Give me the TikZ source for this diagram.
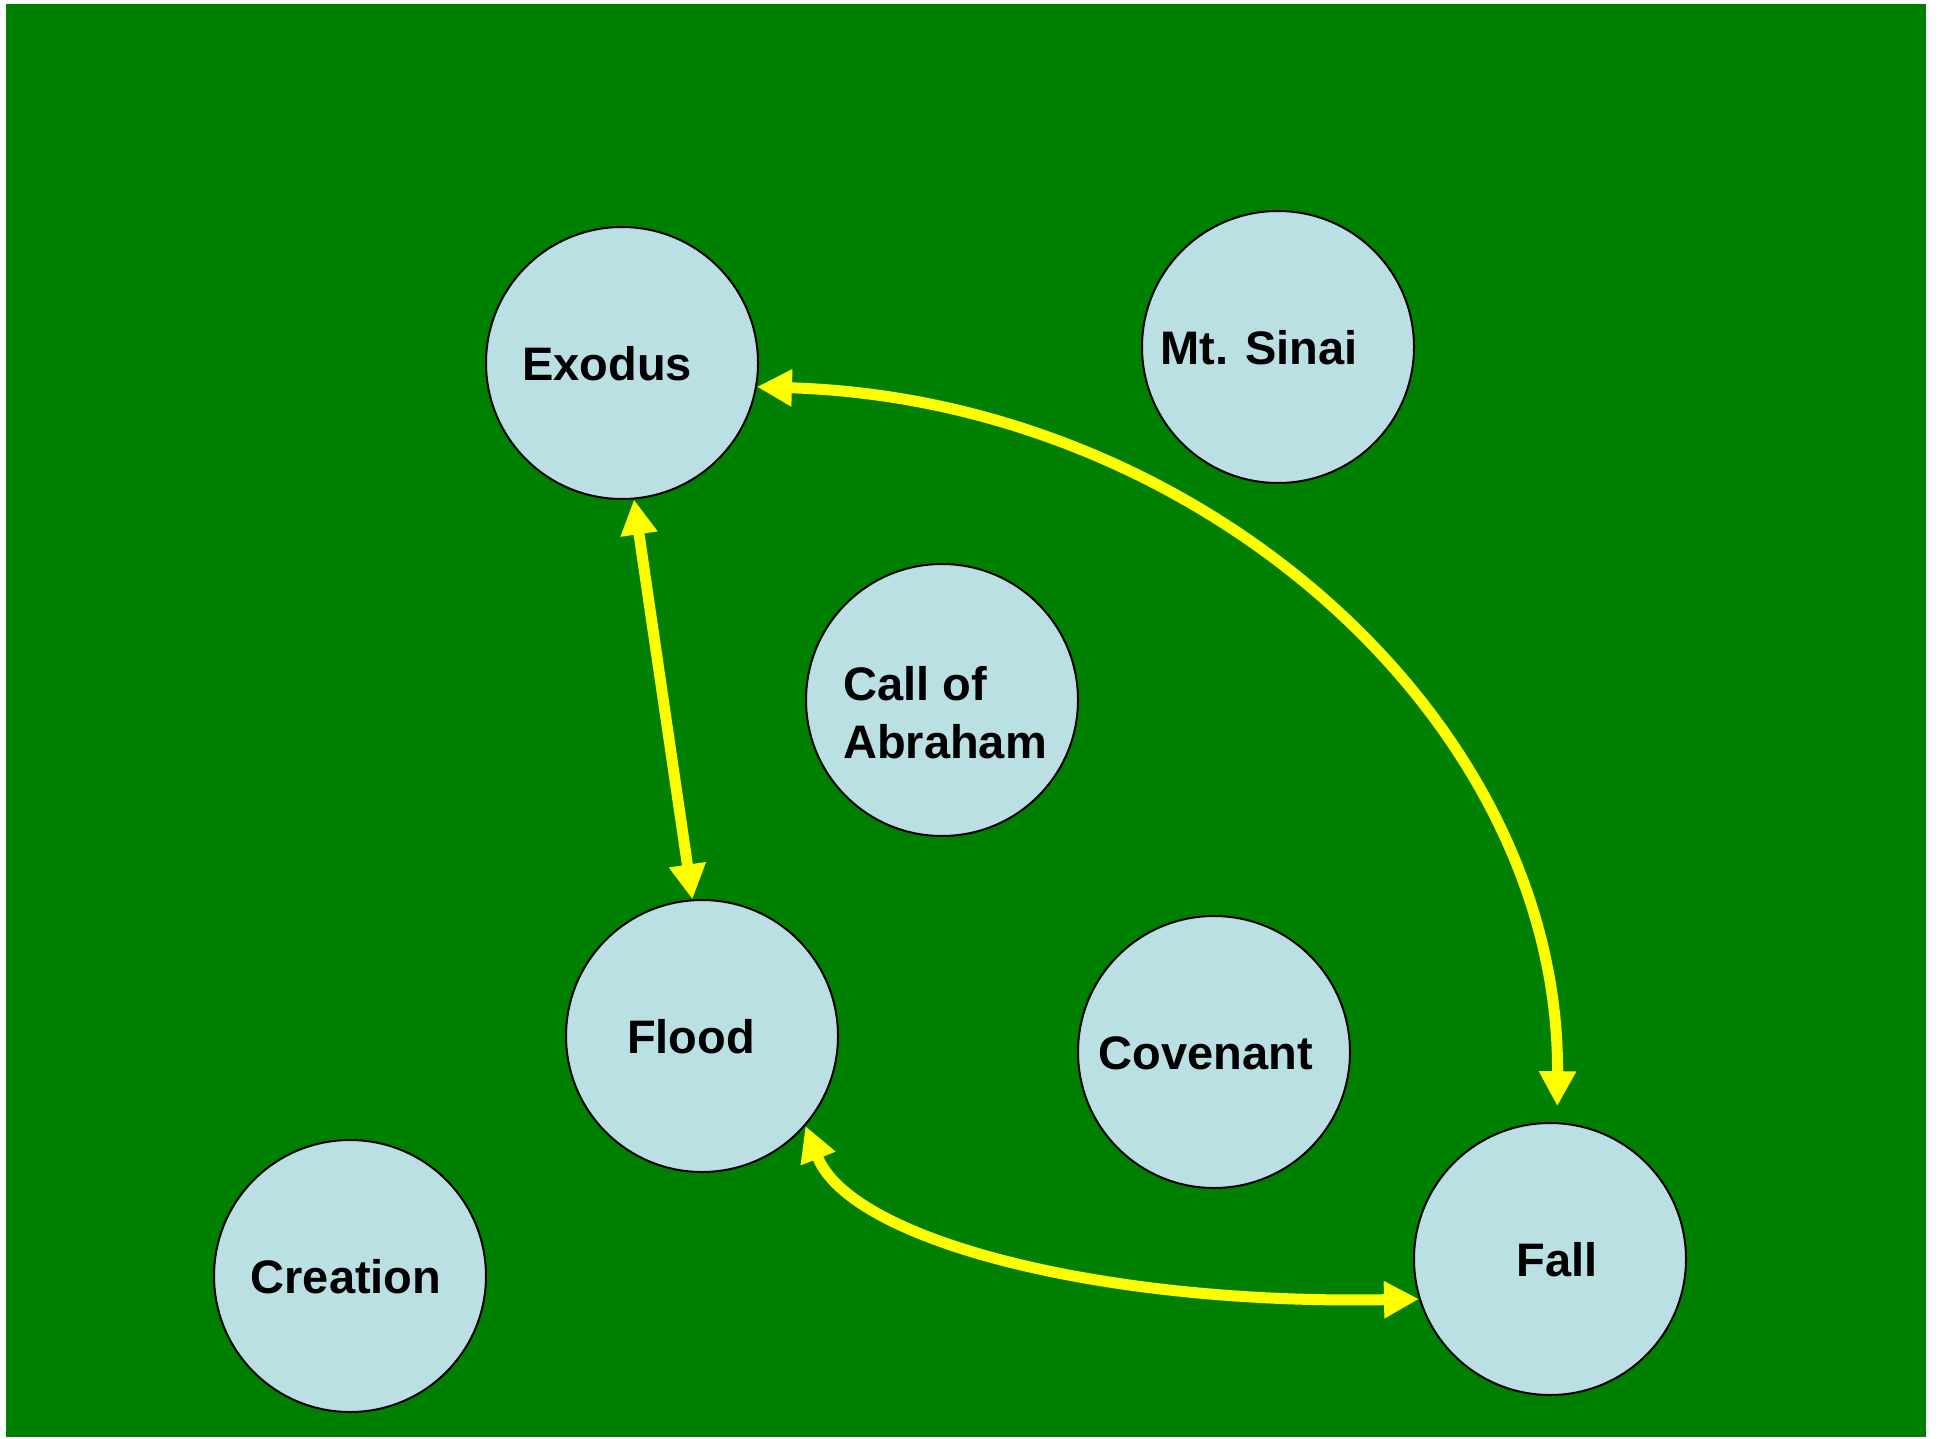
\documentclass[tikz,border=0pt]{standalone}
\usepackage{fontspec}
\setmainfont{Liberation Sans}
\usetikzlibrary{arrows.meta}
\definecolor{bggreen}{RGB}{0,128,0}
\definecolor{disc}{RGB}{186,224,227}
\definecolor{arrowyellow}{RGB}{255,255,0}
\begin{document}
\begin{tikzpicture}[x=1pt,y=-1pt,
  event/.style={circle,draw=black,line width=2pt,fill=disc,minimum size=272pt,inner sep=0pt},
  lbl/.style={font=\fontsize{47}{57.7}\selectfont\bfseries,inner sep=0pt,text=black},
  link/.style={draw=arrowyellow,line width=11pt,{Triangle[length=35pt,width=35pt]}-{Triangle[length=35pt,width=35pt]}}]
\useasboundingbox (0,0) rectangle (1938,1439);
\fill[white] (0,0) rectangle (1938,1439);
\fill[bggreen] (6,4) rectangle (1926,1437);
% discs
\node[event] (exodus)   at (622,363)  {};
\node[event] (sinai)    at (1278,347) {};
\node[event] (abraham)  at (942,700)  {};
\node[event] (flood)    at (702,1036) {};
\node[event] (covenant) at (1214,1052) {};
\node[event] (creation) at (350,1276) {};
\node[event] (fall)     at (1550,1259) {};
% labels
\node[lbl,anchor=base] (exodusT)   at (607,380)  {Exodus};
\node[lbl,anchor=base] (sinaiT)    at (1259,364) {Mt. Sinai};
\node[lbl,anchor=base] (floodT)    at (691,1053) {Flood};
\node[lbl,anchor=base] (covenantT) at (1206,1069) {Covenant};
\node[lbl,anchor=base] (creationT) at (346,1293) {Creation};
\node[lbl,anchor=base] (fallT)     at (1557,1276) {Fall};
\node[lbl,anchor=base west,align=left] (abrahamT) at (843,758) {Call of\\Abraham};
% connectors
\draw[link] (exodus.-85) -- (flood.94);
\draw[link,shorten >=16pt] (exodus.-10) .. controls (1200,400) and (1560,720) .. (fall.87);
\draw[link] (flood.-41) .. controls (850,1240) and (1100,1305) .. (fall.197);
\end{tikzpicture}
\end{document}
